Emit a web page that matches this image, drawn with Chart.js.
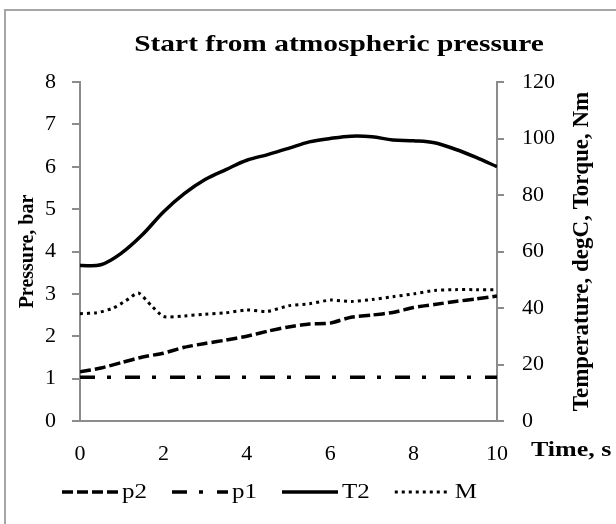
<!DOCTYPE html>
<html>
<head>
<meta charset="utf-8">
<script src="https://cdn.jsdelivr.net/npm/chart.js@4.4.1/dist/chart.umd.min.js"></script>
<style>
  html, body { margin: 0; padding: 0; background: #fff; }
  #wrap { position: relative; width: 616px; height: 524px; overflow: hidden; }
  #frame { position: absolute; left: 4px; top: 9px; width: 640px; height: 540px;
           border-left: 2px solid #a6a6a6; border-top: 2px solid #a6a6a6; }
  canvas { position: absolute; left: 0; top: 0; }
</style>
</head>
<body>
<div id="wrap">
  <div id="frame"></div>
  <canvas id="chart" width="616" height="524"></canvas>
</div>
<script>
// time axis, s
const time = [0, 0.5, 1, 1.5, 2, 2.5, 3, 3.5, 4, 4.5, 5, 5.5, 6, 6.5, 7, 7.5, 8, 8.5, 9, 9.5, 10];
// pressures, bar
const p2 = [1.16, 1.25, 1.38, 1.51, 1.60, 1.74, 1.83, 1.91, 2.00, 2.12, 2.22, 2.29, 2.31, 2.45, 2.50, 2.56, 2.68, 2.75, 2.82, 2.88, 2.95];
const p1 = [1.03, 1.03, 1.03, 1.03, 1.03, 1.03, 1.03, 1.03, 1.03, 1.03, 1.03, 1.03, 1.03, 1.03, 1.03, 1.03, 1.03, 1.03, 1.03, 1.03, 1.03];
// temperature, degC
const t2 = [55, 55.3, 59.5, 66, 74, 80.5, 85.5, 89, 92.3, 94.3, 96.5, 98.8, 100, 100.8, 100.6, 99.5, 99.2, 98.5, 96.2, 93.3, 90];
// torque, Nm (own time base, sharp peak near 1.4 s)
const mTime = [0, 0.4, 0.8, 1.1, 1.4, 1.7, 2, 2.5, 3, 3.5, 4, 4.5, 5, 5.5, 6, 6.5, 7, 7.5, 8, 8.5, 9, 9.5, 10];
const torque = [38, 38.3, 40, 42.6, 45.3, 41, 37, 37.2, 37.8, 38.3, 39.3, 38.8, 40.8, 41.5, 42.8, 42.3, 43, 44, 45, 46.2, 46.5, 46.5, 46.5];

const xTicks = [0, 2, 4, 6, 8, 10];

const pts = (xs, ys) => xs.map((x, i) => ({ x: x, y: ys[i] }));

const AXIS = '#8c8c8c';
const SERIF = '"Liberation Serif", serif';

// text drawn a little wide, like the exported sheet
function wideText(ctx, text, x, y, font, sx, align) {
  ctx.save();
  ctx.translate(x, y);
  ctx.scale(sx, 1);
  ctx.font = font;
  ctx.fillStyle = '#000';
  ctx.textAlign = align || 'left';
  ctx.textBaseline = 'middle';
  ctx.fillText(text, 0, 0);
  const w = ctx.measureText(text).width * sx;
  ctx.restore();
  return w;
}

const chartTitle = {
  id: 'chartTitle',
  afterDraw(chart) {
    wideText(chart.ctx, 'Start from atmospheric pressure', 339, 45, 'bold 23px ' + SERIF, 1.28, 'center');
  }
};

// "Time, s" sits on the tick row, right of the last label
const timeLabel = {
  id: 'timeLabel',
  afterDraw(chart) {
    const xs = chart.scales.x;
    wideText(chart.ctx, 'Time, s', xs.right + 34, 451, 'bold 20px ' + SERIF, 1.3);
  }
};

// right axis title reads bottom-to-top like the left one
const rightTitle = {
  id: 'rightTitle',
  afterDraw(chart) {
    const ctx = chart.ctx;
    const ys = chart.scales.y1;
    ctx.save();
    ctx.translate(ys.left + 85, (ys.top + ys.bottom) / 2);
    ctx.rotate(-Math.PI / 2);
    ctx.font = 'bold 23px ' + SERIF;
    ctx.fillStyle = '#000';
    ctx.textAlign = 'center';
    ctx.textBaseline = 'middle';
    ctx.fillText('Temperature, degC, Torque, Nm', 0, 0);
    ctx.restore();
  }
};

// legend row with the real line styles
const lineLegend = {
  id: 'lineLegend',
  afterDraw(chart) {
    const ctx = chart.ctx;
    const y = 492;
    let x = chart.chartArea.left - 18;
    chart.data.datasets.forEach(ds => {
      ctx.save();
      ctx.beginPath();
      ctx.setLineDash(ds.borderDash || []);
      ctx.lineWidth = ds.borderWidth;
      ctx.strokeStyle = ds.borderColor;
      ctx.moveTo(x, y);
      ctx.lineTo(x + 56, y);
      ctx.stroke();
      ctx.restore();
      const w = wideText(ctx, ds.label, x + 60, y + 1, '20px ' + SERIF, 1.25);
      x += 60 + w + 25;
    });
  }
};

function drawChart() {
  new Chart(document.getElementById('chart'), {
    type: 'line',
    data: {
      datasets: [
        { label: 'p2', data: pts(time, p2), yAxisID: 'y', borderColor: '#000', borderWidth: 3.5,
          borderDash: [11, 4], tension: 0.2 },
        { label: 'p1', data: pts(time, p1), yAxisID: 'y', borderColor: '#000', borderWidth: 3.5,
          borderDash: [15, 12, 4, 14], tension: 0 },
        { label: 'T2', data: pts(time, t2), yAxisID: 'y1', borderColor: '#000', borderWidth: 3.5,
          tension: 0.35 },
        { label: 'M', data: pts(mTime, torque), yAxisID: 'y1', borderColor: '#000', borderWidth: 3,
          borderDash: [3, 4], tension: 0.2 }
      ]
    },
    options: {
      responsive: false,
      animation: false,
      elements: { point: { radius: 0 } },
      layout: { padding: { left: 0, right: 0, top: 82, bottom: 0 } },
      plugins: {
        legend: { display: false },
        tooltip: { enabled: false },
        title: { display: false }
      },
      scales: {
        x: {
          type: 'linear',
          min: 0, max: 10,
          afterBuildTicks: s => { s.ticks = xTicks.map(v => ({ value: v })); },
          afterFit: s => { s.height = 103; },
          grid: { display: false },
          border: { display: true, color: AXIS, width: 2 },
          ticks: { color: '#000', padding: 12, font: { family: SERIF, size: 22 } }
        },
        y: {
          position: 'left',
          min: 0, max: 8,
          ticks: { stepSize: 1, color: '#000', padding: 16, font: { family: SERIF, size: 22 } },
          afterFit: s => { s.width = 80; },
          grid: { drawOnChartArea: false, drawTicks: true, tickLength: 8, color: AXIS, lineWidth: 2 },
          border: { color: AXIS, width: 2 },
          title: {
            display: true,
            text: 'Pressure, bar',
            color: '#000',
            font: { family: SERIF, size: 20, weight: 'bold' },
            padding: { top: 16, bottom: 0 }
          }
        },
        y1: {
          position: 'right',
          min: 0, max: 120,
          ticks: { stepSize: 20, color: '#000', padding: 18, font: { family: SERIF, size: 22 } },
          afterFit: s => { s.width = 119; },
          grid: { drawOnChartArea: false, drawTicks: true, tickLength: 7, color: AXIS, lineWidth: 2 },
          border: { color: AXIS, width: 2 }
        }
      }
    },
    plugins: [chartTitle, timeLabel, rightTitle, lineLegend]
  });
}

// make sure the serif faces are ready before the canvas text is drawn
Promise.all([
  document.fonts.load('22px "Liberation Serif"'),
  document.fonts.load('bold 22px "Liberation Serif"')
]).then(drawChart, drawChart);
</script>
</body>
</html>
